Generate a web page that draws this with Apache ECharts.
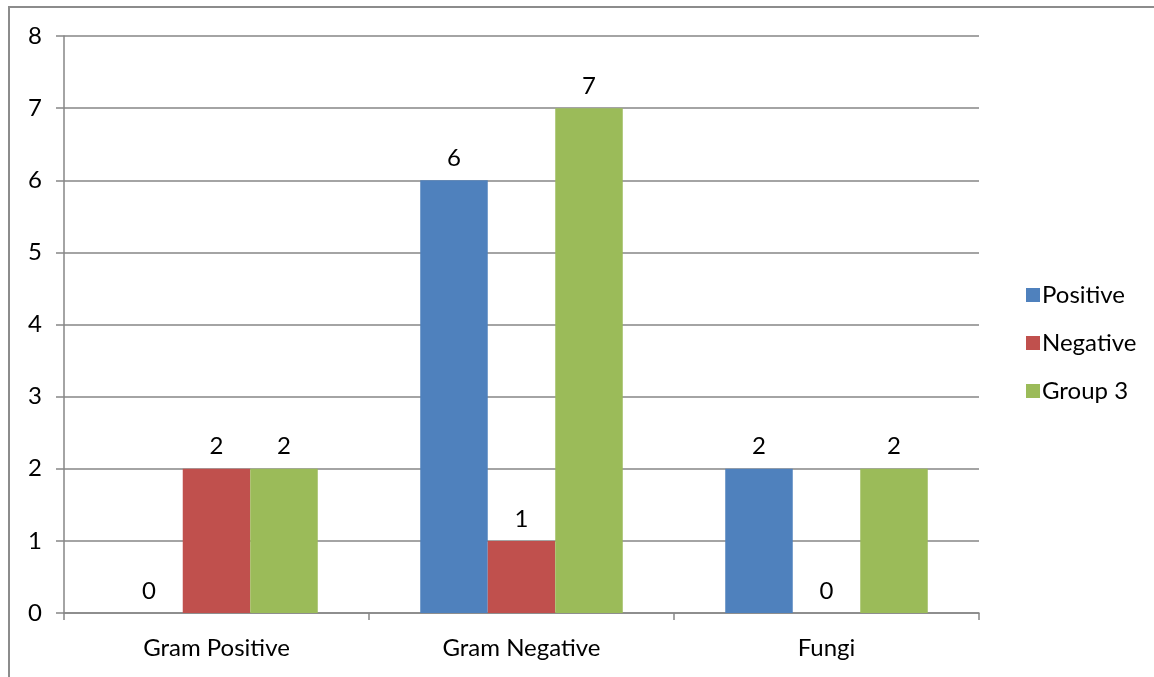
<!DOCTYPE html>
<html>
<head>
<meta charset="utf-8">
<script src="https://cdn.jsdelivr.net/npm/echarts@6/dist/echarts.min.js"></script>
<style>
html,body{margin:0;padding:0;background:#fff;}
#frame{position:absolute;left:8px;top:6px;width:1160px;height:690px;border-left:2px solid #8c8c8c;border-top:2px solid #8c8c8c;box-sizing:border-box;}
#chart{position:absolute;left:0;top:0;width:1154px;height:677px;}
</style>
</head>
<body>
<div id="frame"></div>
<div id="chart"></div>
<script>
const categories = ['Gram Positive', 'Gram Negative', 'Fungi'];
const positive = [0, 6, 2];
const negative = [2, 1, 0];
const group3 = [2, 7, 2];
const yTicks = [0, 1, 2, 3, 4, 5, 6, 7, 8];

const FONT = 'Lato, "Open Sans", sans-serif';
const FS = 24;
const chart = echarts.init(document.getElementById('chart'));
const labelCfg = {show: true, position: 'top', distance: 10, color: '#000', fontSize: FS, fontFamily: FONT};
chart.setOption({
  animation: false,
  grid: {left: 64, right: 175, top: 36, bottom: 64},
  legend: {
    orient: 'vertical', left: 1021, top: 278, itemGap: 24,
    itemWidth: 14, itemHeight: 14, icon: 'rect',
    textStyle: {fontSize: FS, fontFamily: FONT, color: '#000', padding: [0,0,0,-3]},
    data: ['Positive', 'Negative', 'Group 3']
  },
  xAxis: {
    type: 'category', data: categories,
    axisLine: {lineStyle: {color: '#868686', width: 1.5}},
    axisTick: {show: true, length: 7, lineStyle: {color: '#868686', width: 1.5}},
    axisLabel: {fontSize: FS, fontFamily: FONT, color: '#000', margin: 23}
  },
  yAxis: {
    type: 'value', min: yTicks[0], max: yTicks[yTicks.length - 1], interval: 1,
    axisLine: {show: true, lineStyle: {color: '#868686', width: 1.5}},
    axisTick: {show: true, length: 8, lineStyle: {color: '#868686', width: 1.5}},
    splitLine: {lineStyle: {color: '#868686', width: 1.5}},
    axisLabel: {fontSize: FS, fontFamily: FONT, color: '#000', margin: 22}
  },
  series: [
    {name: 'Positive', type: 'bar', data: positive, itemStyle: {color: '#4F81BD'}, barGap: '0%', barCategoryGap: '33.6%', label: labelCfg},
    {name: 'Negative', type: 'bar', data: negative, itemStyle: {color: '#C0504D'}, label: labelCfg},
    {name: 'Group 3', type: 'bar', data: group3, itemStyle: {color: '#9BBB59'}, label: labelCfg}
  ]
});
</script>
</body>
</html>
